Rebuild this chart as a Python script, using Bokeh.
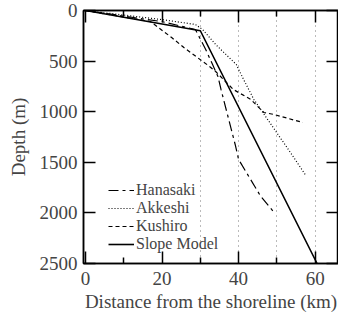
from bokeh.plotting import figure
from bokeh.models import Range1d, LinearAxis, FixedTicker, Legend, LegendItem
from bokeh.embed import file_html
from bokeh.resources import INLINE

# Data (distance km, depth m)
hanasaki_x = [0, 20, 28.7, 31.4, 33.2, 34.6, 35.4, 39.1, 40.0, 45.8, 49.3]
hanasaki_y = [0, 110, 188, 385, 534, 652, 780, 1324, 1472, 1838, 1996]
akkeshi_x = [0, 20, 28.7, 30.6, 34.0, 39.4, 41.3, 44.0, 48.5, 53.9, 57.4]
akkeshi_y = [0, 90, 138, 188, 336, 534, 682, 880, 1127, 1423, 1620]
kushiro_x = [0, 17, 22.5, 25.7, 32.4, 34.0, 38.6, 43.2, 46.6, 49.3, 56.8]
kushiro_y = [0, 110, 267, 366, 553, 603, 780, 880, 1008, 1028, 1107]
slope_x = [0, 30, 60.5]
slope_y = [0, 200, 2500]

x_major = [0, 20, 40, 60]
x_minor = [10, 30, 50]
y_ticks = [0, 500, 1000, 1500, 2000, 2500]
grid_x = [30, 40, 50, 60]

FONT = "Liberation Serif"

p = figure(width=338, height=315, output_backend="svg", toolbar_location=None,
           x_range=Range1d(-0.53, 66.1), y_range=Range1d(2500, 0),
           x_axis_label="Distance from the shoreline (km)", y_axis_label="Depth (m)",
           min_border_left=83, min_border_top=10, min_border_right=0, min_border_bottom=52)
p.background_fill_color = "white"
p.border_fill_color = "white"
p.outline_line_color = "black"
p.outline_line_width = 1.5

p.ygrid.visible = False
p.xgrid.ticker = FixedTicker(ticks=grid_x)
p.xgrid.grid_line_color = "#777777"
p.xgrid.grid_line_dash = "1 4"
p.xgrid.grid_line_width = 1

def style_x(ax, labels=True):
    ax.ticker = FixedTicker(ticks=x_major, minor_ticks=x_minor)
    ax.major_tick_in = 12
    ax.major_tick_out = 0
    ax.minor_tick_in = 6
    ax.minor_tick_out = 0
    ax.axis_line_width = 1.5
    ax.major_tick_line_width = 1.5
    ax.minor_tick_line_width = 1.5
    if labels:
        ax.major_label_text_font = FONT
        ax.major_label_text_font_size = "19px"
        ax.major_label_standoff = 8
        ax.axis_label_text_font = FONT
        ax.axis_label_text_font_size = "19px"
        ax.axis_label_text_font_style = "normal"
        ax.axis_label_standoff = 3
    else:
        ax.major_label_overrides = {t: "" for t in x_major}
        ax.major_label_text_font_size = "1px"
        ax.major_label_standoff = 0

def style_y(ax, labels=True):
    ax.ticker = FixedTicker(ticks=y_ticks)
    ax.major_tick_in = 12
    ax.major_tick_out = 0
    ax.minor_tick_in = 0
    ax.minor_tick_out = 0
    ax.axis_line_width = 1.5
    ax.major_tick_line_width = 1.5
    if labels:
        ax.major_label_text_font = FONT
        ax.major_label_text_font_size = "19px"
        ax.major_label_standoff = 6
        ax.axis_label_text_font = FONT
        ax.axis_label_text_font_size = "19px"
        ax.axis_label_text_font_style = "normal"
        ax.axis_label_standoff = 8
    else:
        ax.major_label_overrides = {t: "" for t in y_ticks}
        ax.major_label_text_font_size = "1px"
        ax.major_label_standoff = 0

style_x(p.xaxis[0])
style_y(p.yaxis[0])
top = LinearAxis()
style_x(top, labels=False)
p.add_layout(top, "above")
right = LinearAxis()
style_y(right, labels=False)
p.add_layout(right, "right")

r1 = p.line(hanasaki_x, hanasaki_y, line_color="black", line_width=1.2, line_dash="10 4 3 4")
r2 = p.line(akkeshi_x, akkeshi_y, line_color="black", line_width=1.2, line_dash="1 2")
r3 = p.line(kushiro_x, kushiro_y, line_color="black", line_width=1.2, line_dash="4 3")
r4 = p.line(slope_x, slope_y, line_color="black", line_width=1.6)

legend = Legend(items=[LegendItem(label="Hanasaki", renderers=[r1]),
                       LegendItem(label="Akkeshi", renderers=[r2]),
                       LegendItem(label="Kushiro", renderers=[r3]),
                       LegendItem(label="Slope Model", renderers=[r4])],
                location=(25, 10))
legend.background_fill_alpha = 0
legend.border_line_alpha = 0
legend.label_text_font = FONT
legend.label_text_font_size = "16px"
legend.glyph_width = 26
legend.glyph_height = 16
legend.label_height = 16
legend.spacing = 0
legend.padding = 0
legend.margin = 0
legend.label_standoff = 2
p.add_layout(legend, "center")

open("out.html", "w").write(file_html(p, INLINE))
